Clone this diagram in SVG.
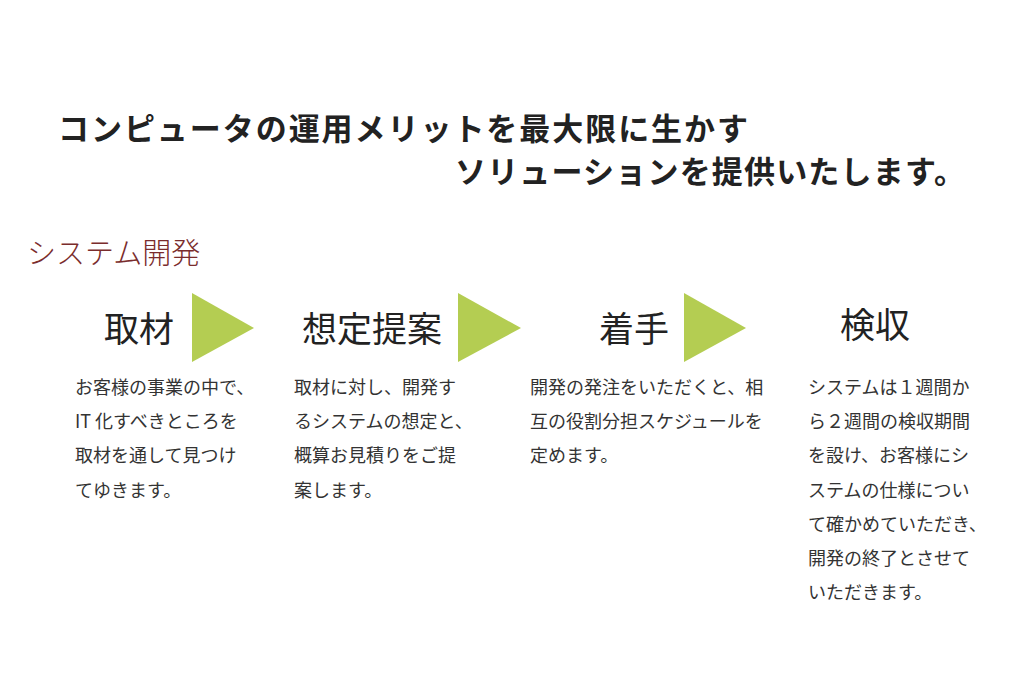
<svg xmlns="http://www.w3.org/2000/svg" width="1024" height="682" viewBox="0 0 1024 682">
<style>
.t{font-family:"Noto Sans CJK JP",sans-serif;font-weight:bold;font-size:31px;fill:#222}
.h{font-family:"Noto Sans CJK JP",sans-serif;font-weight:300;font-size:29px;fill:#7a2c2c}
.s{font-family:"Noto Sans CJK JP",sans-serif;font-size:35px;fill:#222}
.b{font-family:"Noto Sans CJK JP",sans-serif;font-size:18px;fill:#333}
.a{fill:#b4cd52}
</style>
<rect width="1024" height="682" fill="#fff"/>
<text class="t" x="58" y="140" textLength="690">コンピュータの運用メリットを最大限に生かす</text>
<text class="t" x="455" y="183" textLength="510">ソリューションを提供いたします。</text>
<text class="h" x="27" y="264">システム開発</text>
<g id="connectors">
<polygon class="a" points="192,293 254,328 192,362"/>
<polygon class="a" points="458,293 521,328 458,362"/>
<polygon class="a" points="684,293 746,328 684,362"/>
</g>
<g id="step1"><text class="s" x="104" y="342">取材</text>
<text class="b"><tspan x="75" y="394">お客様の事業の中で、</tspan><tspan x="75" y="428.2">IT 化すべきところを</tspan><tspan x="75" y="462.4">取材を通して見つけ</tspan><tspan x="75" y="496.6">てゆきます。</tspan></text></g>
<g id="step2"><text class="s" x="302" y="342">想定提案</text>
<text class="b"><tspan x="294" y="394">取材に対し、開発す</tspan><tspan x="294" y="428.2">るシステムの想定と、</tspan><tspan x="294" y="462.4">概算お見積りをご提</tspan><tspan x="294" y="496.6">案します。</tspan></text></g>
<g id="step3"><text class="s" x="599" y="342">着手</text>
<text class="b"><tspan x="530" y="394">開発の発注をいただくと、相</tspan><tspan x="530" y="428.2">互の役割分担スケジュールを</tspan><tspan x="530" y="462.4">定めます。</tspan></text></g>
<g id="step4"><text class="s" x="840" y="338">検収</text>
<text class="b"><tspan x="808" y="394">システムは１週間か</tspan><tspan x="808" y="428.2">ら２週間の検収期間</tspan><tspan x="808" y="462.4">を設け、お客様にシ</tspan><tspan x="808" y="496.6">ステムの仕様につい</tspan><tspan x="808" y="530.8">て確かめていただき、</tspan><tspan x="808" y="565">開発の終了とさせて</tspan><tspan x="808" y="599.2">いただきます。</tspan></text></g>
</svg>
